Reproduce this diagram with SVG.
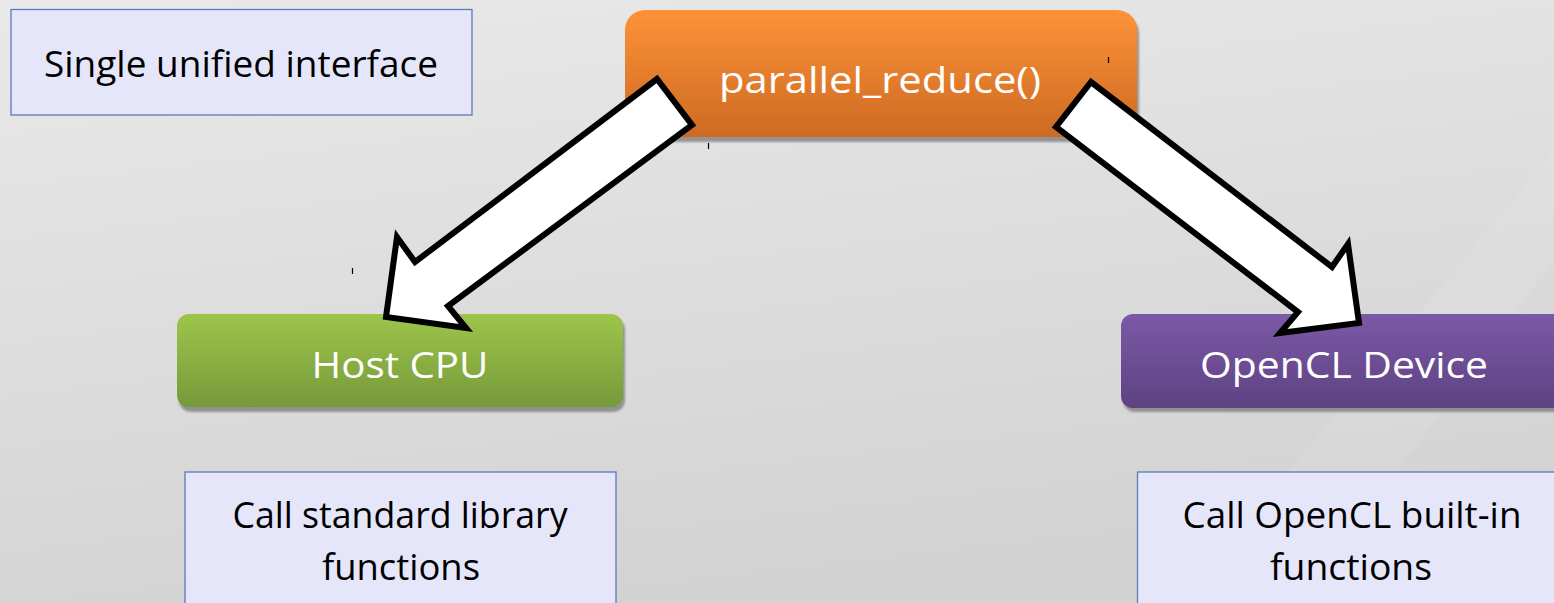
<svg xmlns="http://www.w3.org/2000/svg" width="1554" height="603" viewBox="0 0 1554 603">
<defs>
<linearGradient id="bg" x1="0" y1="0" x2="0.3" y2="1">
<stop offset="0" stop-color="#e9e9e9"/>
<stop offset="1" stop-color="#d3d3d3"/>
</linearGradient>
<linearGradient id="gOrange" x1="0" y1="0" x2="0" y2="1">
<stop offset="0" stop-color="#fd9238"/>
<stop offset="1" stop-color="#cd6a22"/>
</linearGradient>
<linearGradient id="gGreen" x1="0" y1="0" x2="0" y2="1">
<stop offset="0" stop-color="#9dc54b"/>
<stop offset="1" stop-color="#769a3a"/>
</linearGradient>
<linearGradient id="gPurple" x1="0" y1="0" x2="0" y2="1">
<stop offset="0" stop-color="#7c59a6"/>
<stop offset="1" stop-color="#5e4283"/>
</linearGradient>
<filter id="blur" x="-5%" y="-20%" width="110%" height="140%">
<feGaussianBlur stdDeviation="1.2"/>
</filter>
</defs>
<style>
.note{fill:#e6e6fa;stroke:#5b7ab8;stroke-width:1.3}
.ntxt{font-family:"Open Sans","Liberation Sans",sans-serif;font-size:36px;fill:#000;text-anchor:middle}
.wtxt{font-family:"Open Sans","Liberation Sans",sans-serif;font-size:37px;fill:#fff;text-anchor:middle}
.shadow{fill:#7a7a7a;opacity:0.75;filter:url(#blur)}
.arrow{fill:#fff;stroke:#000;stroke-width:6;stroke-linejoin:miter;stroke-miterlimit:10}
.tick{stroke:#000;stroke-width:1.2}
</style>
<rect x="0" y="0" width="1554" height="603" fill="url(#bg)"/>
<polygon points="1180,603 1554,150 1554,260 1300,603" fill="#ffffff" opacity="0.08"/>

<g id="note-top">
<rect class="note" x="11" y="9.5" width="461" height="105.5"/>
<text class="ntxt" x="241" y="77" textLength="394" lengthAdjust="spacingAndGlyphs">Single unified interface</text>
</g>

<g id="parallel-reduce">
<rect class="shadow" x="627" y="14" width="512" height="128" rx="20"/>
<rect x="625" y="10" width="512" height="127" rx="20" fill="url(#gOrange)"/>
<text class="wtxt" x="880" y="93" textLength="322" lengthAdjust="spacingAndGlyphs">parallel_reduce()</text>
</g>

<g id="host-cpu">
<rect class="shadow" x="179" y="318" width="446" height="94" rx="12"/>
<rect x="177" y="314" width="446" height="93" rx="12" fill="url(#gGreen)"/>
<text class="wtxt" x="400" y="378" textLength="177" lengthAdjust="spacingAndGlyphs">Host CPU</text>
</g>

<g id="opencl-device">
<rect class="shadow" x="1123" y="318" width="460" height="94" rx="12"/>
<rect x="1121" y="314" width="460" height="94" rx="12" fill="url(#gPurple)"/>
<text class="wtxt" x="1344" y="378" textLength="288" lengthAdjust="spacingAndGlyphs">OpenCL Device</text>
</g>

<g id="note-host">
<rect class="note" x="185" y="472" width="431" height="140"/>
<text class="ntxt" x="400" y="528" textLength="335" lengthAdjust="spacingAndGlyphs">Call standard library</text>
<text class="ntxt" x="401" y="580" textLength="158" lengthAdjust="spacingAndGlyphs">functions</text>
</g>

<g id="note-device">
<rect class="note" x="1137.5" y="472" width="430" height="140"/>
<text class="ntxt" x="1352" y="528" textLength="339" lengthAdjust="spacingAndGlyphs">Call OpenCL built-in</text>
<text class="ntxt" x="1351" y="580" textLength="162" lengthAdjust="spacingAndGlyphs">functions</text>
</g>

<g id="connectors">
<polygon class="arrow" points="657,79 415,262 397,237 386,317 466,328 448,306 692,125"/>
<polygon class="arrow" points="1091,82 1332,267 1348,244 1359,323 1280,333 1298,312 1056,127"/>
</g>

<g id="ticks">
<line class="tick" x1="1108.5" y1="57" x2="1108.5" y2="63"/>
<line class="tick" x1="708.5" y1="143" x2="708.5" y2="149"/>
<line class="tick" x1="352.5" y1="268" x2="352.5" y2="274"/>
</g>
</svg>
